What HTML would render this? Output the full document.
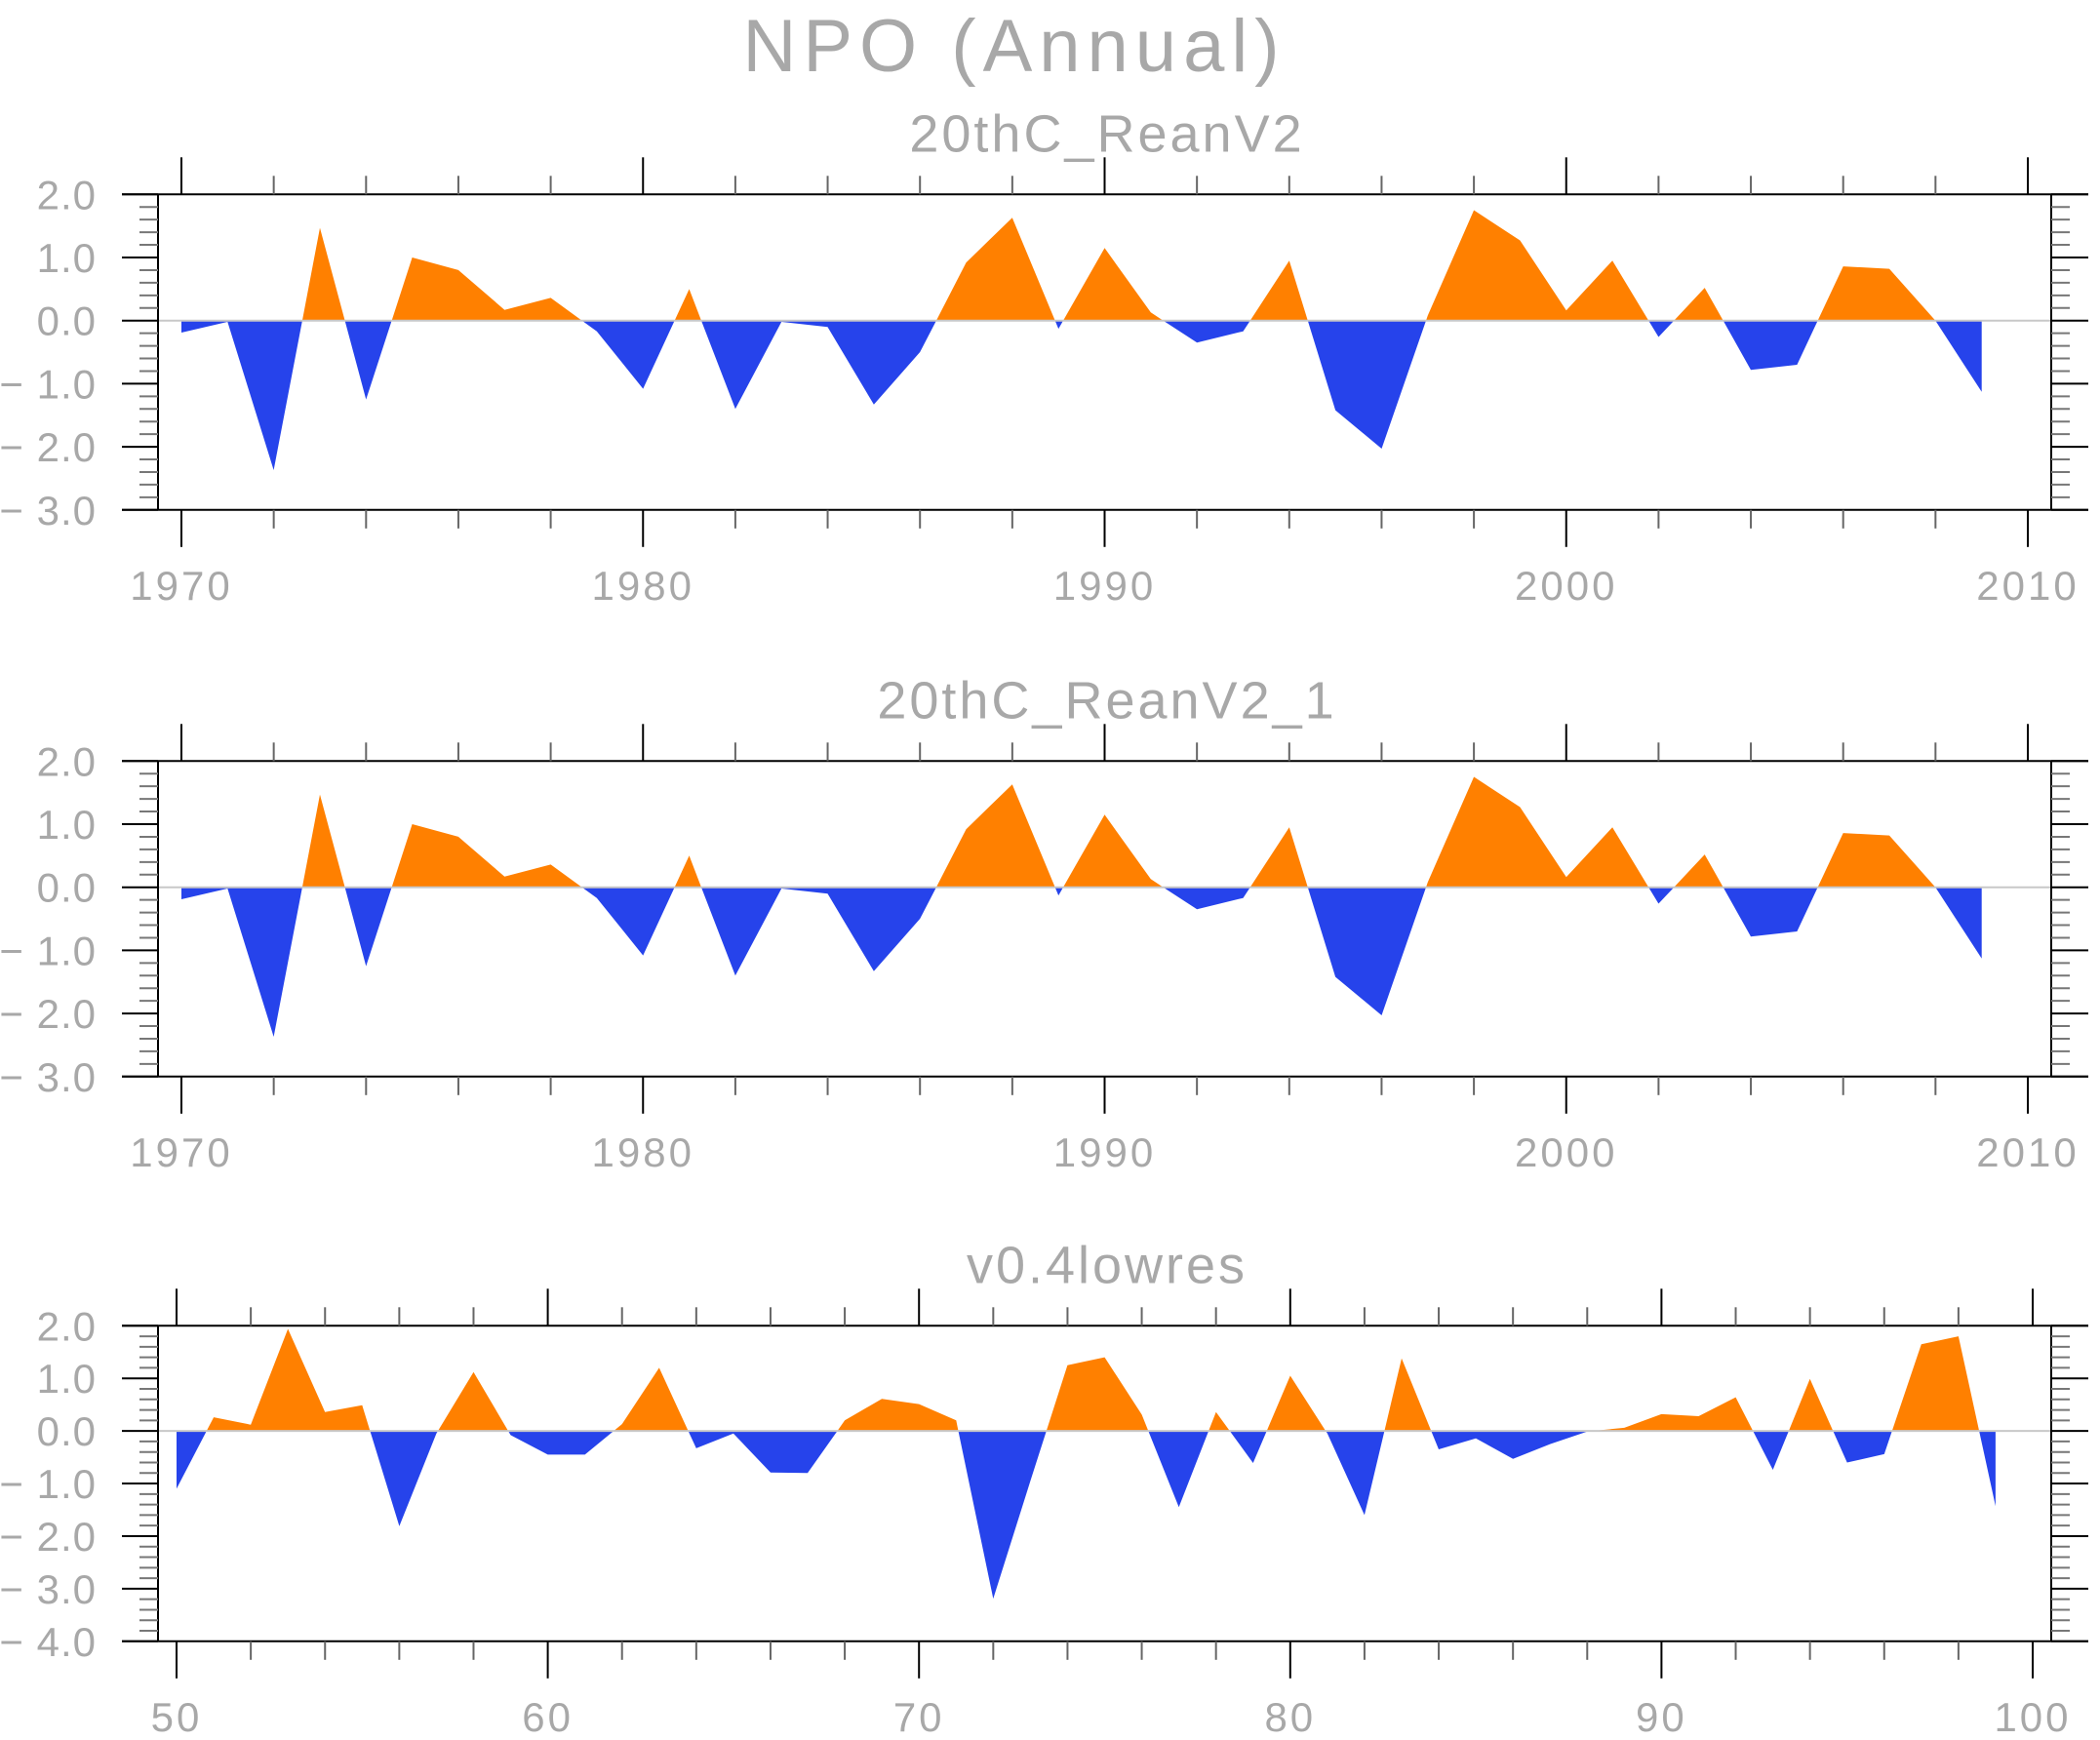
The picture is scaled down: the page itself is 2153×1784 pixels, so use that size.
<!DOCTYPE html>
<html><head><meta charset="utf-8"><style>
html,body{margin:0;padding:0;background:#fff}
svg{display:block}
text{font-family:"Liberation Sans",sans-serif;fill:#a8a8a8}
</style></head><body>
<svg id="fig" width="2153" height="1784" viewBox="0 0 2153 1784" xmlns="http://www.w3.org/2000/svg">
<text x="1040" y="73" font-size="76" text-anchor="middle" letter-spacing="7">NPO (Annual)</text>
</svg>
<script>
const yearsA = [];
for (let y = 1970; y <= 2009; y++) yearsA.push(y);
const valuesA = [-0.19,-0.02,-2.37,1.47,-1.25,1.0,0.8,0.17,0.36,-0.17,-1.08,0.5,-1.4,-0.02,-0.1,-1.33,-0.5,0.92,1.63,-0.13,1.15,0.13,-0.35,-0.17,0.95,-1.42,-2.03,0.08,1.75,1.27,0.16,0.95,-0.26,0.52,-0.78,-0.7,0.86,0.82,0.0,-1.13];
const yearsC = [];
for (let y = 50; y <= 99; y++) yearsC.push(y);
const valuesC = [-1.1,0.26,0.12,1.94,0.36,0.49,-1.81,-0.05,1.12,-0.08,-0.45,-0.45,0.13,1.2,-0.33,-0.05,-0.79,-0.8,0.2,0.61,0.51,0.2,-3.19,-0.95,1.25,1.4,0.31,-1.45,0.36,-0.61,1.05,-0.05,-1.6,1.38,-0.35,-0.14,-0.53,-0.25,-0.01,0.06,0.32,0.28,0.64,-0.74,0.99,-0.6,-0.44,1.65,1.8,-1.43];
const xTickLabelsA = ["1970","1980","1990","2000","2010"];
const xTickLabelsC = ["50","60","70","80","90","100"];
const yTicksA = [2,1,0,-1,-2,-3];
const yTicksC = [2,1,0,-1,-2,-3,-4];
const titles = ["20thC_ReanV2","20thC_ReanV2_1","v0.4lowres"];

const NS = "http://www.w3.org/2000/svg";
const svg = document.getElementById("fig");
function mk(tag, attrs, parent) {
  const e = document.createElementNS(NS, tag);
  for (const k in attrs) e.setAttribute(k, attrs[k]);
  (parent || svg).appendChild(e);
  return e;
}

function panel(idx, top, xs, vals, xmin, xmax, ymax, ymin, yTicks, xLabels, xLabelStep) {
  const g = mk("g", {});
  
  
  const bottom = top + 323.5, L = 162, R = 2103, XL = 125, XR = 2141;
  const x0 = idx < 2 ? 186 : 181, x1 = idx < 2 ? 2079 : 2084;
  const xs_ = v => x0 + (v - xmin) / (xmax - xmin) * (x1 - x0);
  const ys = v => top + (ymax - v) / (ymax - ymin) * (bottom - top);
  const zy = ys(0);
  const t = mk("text", {x: 1135, y: top - 44, "font-size": 54, "text-anchor": "middle", "letter-spacing": 3}, g);
  t.textContent = titles[idx];
  
  
  let pos = [], neg = [];
  for (let i = 0; i < vals.length; i++) {
    const x = xs_(xs[i]), v = vals[i];
    if (i > 0) {
      const pv = vals[i - 1];
      if ((pv > 0 && v < 0) || (pv < 0 && v > 0)) {
        const f = pv / (pv - v);
        const cx = xs_(xs[i - 1]) + f * (x - xs_(xs[i - 1]));
        pos.push([cx, zy]); neg.push([cx, zy]);
      }
    }
    pos.push([x, ys(Math.max(v, 0))]);
    neg.push([x, ys(Math.min(v, 0))]);
  }
  const fx = xs_(xs[0]), lx = xs_(xs[xs.length - 1]);
  const toPts = arr => [[fx, zy]].concat(arr, [[lx, zy]]).map(p => p[0].toFixed(1) + "," + p[1].toFixed(1)).join(" ");
  const pp = mk("polygon", {points: toPts(pos), fill: "#ff8000"}, g);
  
  
  const np = mk("polygon", {points: toPts(neg), fill: "#2643eb"}, g);
  
  
  const zl = mk("line", {x1: L, x2: R, y1: zy, y2: zy, stroke: "#c8c8c8", "stroke-width": 2}, g);
  
  
  const ax = mk("g", {stroke: "#000", "stroke-width": 2}, g);
  
  
  mk("line", {x1: XL, x2: XR, y1: top, y2: top}, ax);
  mk("line", {x1: XL, x2: XR, y1: bottom, y2: bottom}, ax);
  mk("line", {x1: L, x2: L, y1: top, y2: bottom}, ax);
  mk("line", {x1: R, x2: R, y1: top, y2: bottom}, ax);
  for (let v = ymax; v >= ymin - 1e-9; v -= 0.2) {
    const y = ys(v);
    const major = Math.abs(v - Math.round(v)) < 1e-6;
    mk("line", {x1: major ? XL : 143, x2: L, y1: y, y2: y, stroke: major ? "#000" : "#777", "stroke-width": 2}, g);
    mk("line", {x1: R, x2: major ? XR : 2122, y1: y, y2: y, stroke: major ? "#000" : "#777", "stroke-width": 2}, g);
  }
  yTicks.forEach(v => {
    const tx = mk("text", {x: 99, y: ys(v) + 15, "font-size": 42, "text-anchor": "end", "letter-spacing": 1}, g);
    tx.textContent = v < 0 ? "\u2212 " + Math.abs(v).toFixed(1) : v.toFixed(1);
    
    
  });
  for (let v = xmin; v <= xmax; v += 2) {
    const x = xs_(v);
    const major = (v - xmin) % 10 === 0;
    const len = major ? 38 : 19;
    mk("line", {x1: x, x2: x, y1: top - len, y2: top, stroke: major ? "#000" : "#666", "stroke-width": 2}, g);
    mk("line", {x1: x, x2: x, y1: bottom, y2: bottom + len, stroke: major ? "#000" : "#666", "stroke-width": 2}, g);
  }
  xLabels.forEach((lab, i) => {
    const tx = mk("text", {x: xs_(xmin + i * xLabelStep), y: bottom + 92, "font-size": 42, "text-anchor": "middle", "letter-spacing": 3}, g);
    tx.textContent = lab;
    
    
  });
}
panel(0, 199.3, yearsA, valuesA, 1970, 2010, 2, -3, yTicksA, xTickLabelsA, 10);
panel(1, 780.3, yearsA, valuesA, 1970, 2010, 2, -3, yTicksA, xTickLabelsA, 10);
panel(2, 1359.3, yearsC, valuesC, 50, 100, 2, -4, yTicksC, xTickLabelsC, 10);
</script>
</body></html>
